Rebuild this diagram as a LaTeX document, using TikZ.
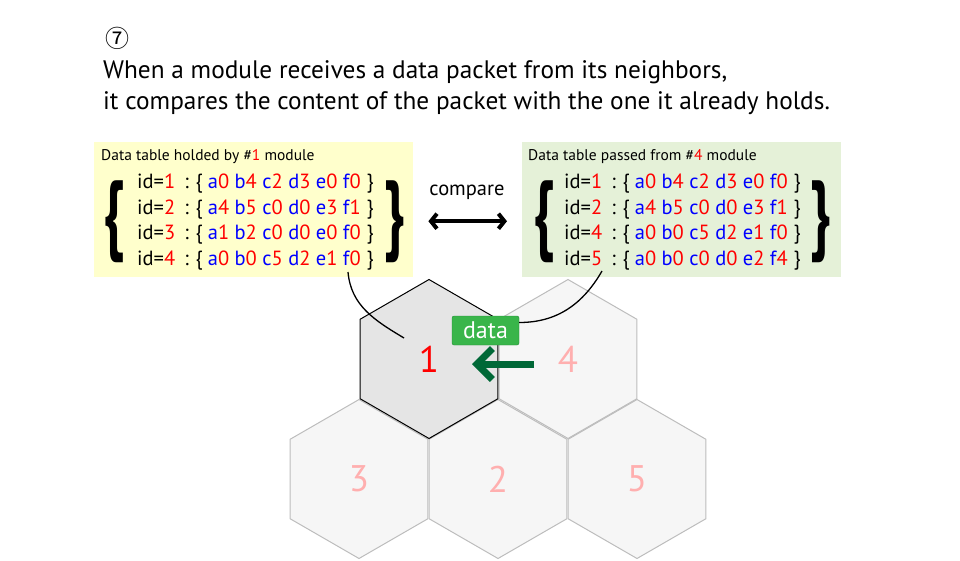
\documentclass[tikz,border=0pt]{standalone}
\usepackage{fontspec}
\setmainfont{PT Sans}
\newfontfamily\cjk{Noto Sans CJK JP}
\usepackage{graphicx}
\usepackage{xcolor}
\usetikzlibrary{shapes.geometric,arrows.meta,positioning,calc}

\definecolor{valred}{HTML}{FF0000}
\definecolor{keyblue}{HTML}{0000FF}
\definecolor{pinknum}{HTML}{FFAFAF}
\definecolor{heldfill}{HTML}{FFFFCC}
\definecolor{passfill}{HTML}{E5F1D8}
\definecolor{datagreen}{HTML}{39B54A}
\definecolor{dataline}{HTML}{238B36}
\definecolor{arrowgreen}{HTML}{006837}
\definecolor{cellgray}{HTML}{F6F6F6}
\definecolor{cellline}{HTML}{BDBDBD}
\definecolor{ownfill}{HTML}{E5E5E5}

\newcommand{\kv}[2]{{\color{keyblue}#1}{\color{valred}#2}}
\newcommand{\idn}[1]{id={\color{valred}#1}\hspace{9pt}:\hspace{7pt}\{\hspace{5pt}}
\newcommand{\ide}{\hspace{6pt}\}}
\newcommand{\bigbrace}[1]{\resizebox*{21pt}{82pt}{\bfseries #1}}

\begin{document}
\begin{tikzpicture}[x=1pt, y=1pt, >={Straight Barb}]
\tikzset{
cell/.style     = {draw=cellline, fill=cellgray, line width=1pt, shape=regular polygon, regular polygon sides=6, shape border rotate=30, minimum size=159pt, inner sep=0pt, text=pinknum, font=\fontsize{37}{37}\selectfont},
owncell/.style  = {cell, draw=black, fill=ownfill, text=valred},
tablebox/.style = {shape=rectangle, anchor=north west, minimum width=319pt, minimum height=135pt, inner sep=0pt},
caption/.style  = {anchor=west, inner sep=0pt, font=\fontsize{15.5}{15.5}\selectfont},
rows/.style     = {anchor=west, inner sep=0pt, align=left, font=\fontsize{20.5}{25.5}\selectfont},
brace/.style    = {inner sep=0pt},
packet/.style   = {draw=dataline, fill=datagreen, rounded corners=2pt, minimum width=67pt, minimum height=29pt, inner sep=0pt, text=white, font=\fontsize{24}{24}\selectfont},
link/.style     = {line width=1.3pt},
}
    \useasboundingbox (0,0) rectangle (960,-560);

    % Title
    \node [anchor=center]               (stepno)    at (117,-38)    {\cjk\fontsize{24}{24}\selectfont ⑦};
    \node [anchor=north west, align=left, inner sep=0pt, font=\fontsize{25.3}{31.5}\selectfont]
                                        (title)     at (103,-60)    {When a module receives a data packet from its neighbors,\\it compares the content of the packet with the one it already holds.};

    % Modules
    \node [cell]                        (m4)        at (568,-359)   {4};
    \node [cell]                        (m3)        at (359,-479)   {3};
    \node [cell]                        (m2)        at (498,-479)   {2};
    \node [cell]                        (m5)        at (637,-479)   {5};
    \node [owncell]                     (m1)        at (429,-359)   {1};

    % Data tables
    \node [tablebox, fill=heldfill]     (held)      at (94,-142)    {};
    \node [caption]                     (heldcap)   at (101,-157)   {Data table holded by \#{\color{valred}1} module};
    \node [rows]                        (heldrows)  at (137,-222)   {\idn{1}\kv a0 \kv b4 \kv c2 \kv d3 \kv e0 \kv f0\ide\\
                                                                     \idn{2}\kv a4 \kv b5 \kv c0 \kv d0 \kv e3 \kv f1\ide\\
                                                                     \idn{3}\kv a1 \kv b2 \kv c0 \kv d0 \kv e0 \kv f0\ide\\
                                                                     \idn{4}\kv a0 \kv b0 \kv c5 \kv d2 \kv e1 \kv f0\ide};
    \node [brace, left=12pt of heldrows]    (heldl) {\bigbrace{\{}};
    \node [brace, right=10pt of heldrows]   (heldr) {\bigbrace{\}}};

    \node [tablebox, fill=passfill]     (pass)      at (522,-142)   {};
    \node [caption]                     (passcap)   at (528,-157)   {Data table passed from \#{\color{valred}4} module};
    \node [rows]                        (passrows)  at (564,-222)   {\idn{1}\kv a0 \kv b4 \kv c2 \kv d3 \kv e0 \kv f0\ide\\
                                                                     \idn{2}\kv a4 \kv b5 \kv c0 \kv d0 \kv e3 \kv f1\ide\\
                                                                     \idn{4}\kv a0 \kv b0 \kv c5 \kv d2 \kv e1 \kv f0\ide\\
                                                                     \idn{5}\kv a0 \kv b0 \kv c0 \kv d0 \kv e2 \kv f4\ide};
    \node [brace, left=9pt of passrows]     (passl) {\bigbrace{\{}};
    \node [brace, right=9pt of passrows]    (passr) {\bigbrace{\}}};

    % Compare
    \node [inner sep=0pt, font=\fontsize{20.5}{20.5}\selectfont] (cmp) at (467,-192) {compare};
    \draw [{Straight Barb[length=6pt, width=15pt]}-{Straight Barb[length=6pt, width=15pt]}, line width=4pt, shorten <=15pt, shorten >=15pt]
          ([yshift=-11.5pt]held.east) -- ([yshift=-11.5pt]pass.west);

    % Packet
    \node [packet]                      (packet)    at (485.5,-330.5) {data};
    \coordinate (heldtail)  at (348,-272);
    \coordinate (passtail)  at (602,-271);
    \coordinate (cellhook)  at (404,-338);
    \draw [link] (heldtail) to[out=-85, in=149] (cellhook);
    \draw [link] (passtail) to[out=-120, in=0] ([yshift=8pt]packet.east);
    \draw [->, arrowgreen, line width=7pt] ($(m4.center)+(-34,-5)$) -- ($(m1.center)+(43,-5)$);

\end{tikzpicture}
\end{document}
